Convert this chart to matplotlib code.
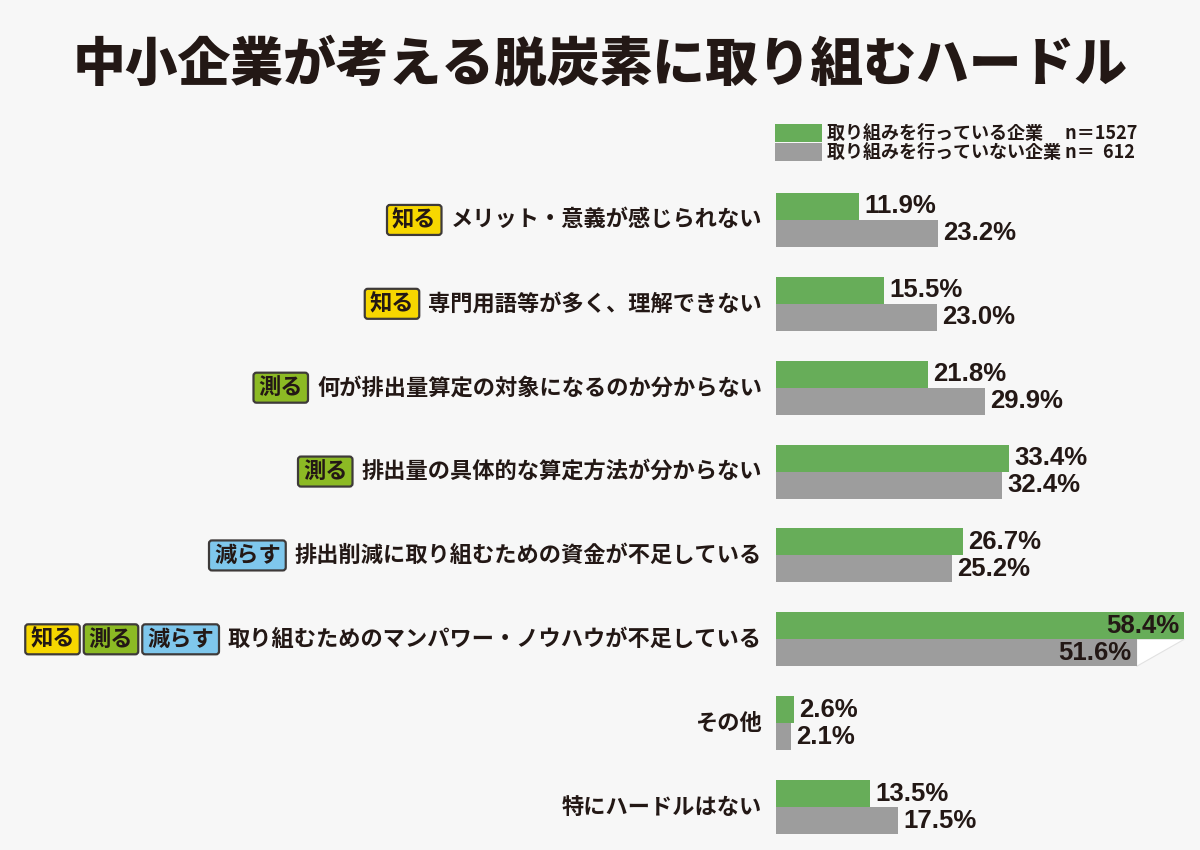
import matplotlib
matplotlib.use('Agg')
import matplotlib.pyplot as plt
from matplotlib.patches import FancyBboxPatch
from matplotlib.transforms import IdentityTransform
import numpy as np

plt.rcParams['font.family'] = ['Noto Sans CJK JP', 'DejaVu Sans']

# data
categories = ['メリット・意義が感じられない',
              '専門用語等が多く、理解できない',
              '何が排出量算定の対象になるのか分からない',
              '排出量の具体的な算定方法が分からない',
              '排出削減に取り組むための資金が不足している',
              '取り組むためのマンパワー・ノウハウが不足している',
              'その他',
              '特にハードルはない']
tags = [['知る'], ['知る'], ['測る'], ['測る'], ['減らす'],
        ['知る', '測る', '減らす'], [], []]
active = [11.9, 15.5, 21.8, 33.4, 26.7, 58.4, 2.6, 13.5]
inactive = [23.2, 23.0, 29.9, 32.4, 25.2, 51.6, 2.1, 17.5]
series_names = ['取り組みを行っている企業', '取り組みを行っていない企業']
sample_sizes = ['n＝1527', 'n＝  612']
tag_colors = {'知る': '#f7d700', '測る': '#8cba24', '減らす': '#7fc7ec'}

bg = '#f7f7f7'
ink = '#231815'
green = '#67ad59'
gray = '#9d9d9d'

fig = plt.figure(figsize=(12, 8.5), dpi=100)
fig.patch.set_facecolor(bg)

# axes: x=0 at pixel 776, 6.99 px per percent
ax = fig.add_axes([776 / 1200, 1 / 850, 424 / 1200, 671 / 850])
ax.set_facecolor('none')
ax.set_xlim(0, 424 / 6.99)
ax.set_ylim(len(categories) - 0.5, -0.5)
ax.axis('off')

y = np.arange(len(categories))
h = 0.322
b1 = ax.barh(y - h / 2, active, height=h, color=green, label=series_names[0])
b2 = ax.barh(y + h / 2, inactive, height=h, color=gray, label=series_names[1])

# little white fold under the longest bar
imax = int(np.argmax(active))
ax.fill([inactive[imax], active[imax], inactive[imax]],
        [imax, imax, imax + h], facecolor='white', edgecolor='#e2e2e2',
        lw=0.8, zorder=0)

# value labels
num_font = ['Liberation Sans', 'DejaVu Sans']
for vals, yy in ((active, y - h / 2), (inactive, y + h / 2)):
    for v, yc in zip(vals, yy):
        inside = v > 50
        ax.annotate(f'{v:.1f}%', (v, yc), xytext=(-5 if inside else 5, 0),
                    textcoords='offset pixels', ha='right' if inside else 'left',
                    va='center', fontsize=18.5, fontweight='bold',
                    family=num_font, color=ink)

# category labels with tags
renderer = fig.canvas.get_renderer()
pad_x = 5
box_h = 30
for i, (cat, tg) in enumerate(zip(categories, tags)):
    lab = ax.annotate(cat, (0, i), xytext=(-14, 0), textcoords='offset pixels',
                      ha='right', va='center', fontsize=16, fontweight='bold',
                      color=ink)
    ext = lab.get_window_extent(renderer)
    x0, yc = ax.transData.transform((0, i))
    x_right = ext.x0 - 9
    for t in reversed(tg):
        tt = ax.annotate(t, (0, i), xytext=(x_right - pad_x - x0, 0),
                         textcoords='offset pixels', ha='right', va='center',
                         fontsize=16, fontweight='bold', color=ink, zorder=5)
        te = tt.get_window_extent(renderer)
        box = FancyBboxPatch((te.x0 - pad_x, yc - box_h / 2),
                             te.width + 2 * pad_x, box_h,
                             boxstyle='round,pad=0,rounding_size=3',
                             fc=tag_colors[t], ec='#3e3a39', lw=1.6,
                             transform=IdentityTransform(), zorder=4,
                             clip_on=False)
        ax.add_artist(box)
        x_right = te.x0 - pad_x - 4

# legend
labels = [series_names[0] + '　 ' + sample_sizes[0],
          series_names[1] + ' ' + sample_sizes[1]]
fig.legend([b1, b2], labels, loc='upper left',
           bbox_to_anchor=(775 / 1200, 1 - 124 / 850), frameon=False,
           prop={'size': 13, 'weight': 'bold'}, labelcolor=ink,
           handlelength=2.6, handleheight=1.1, labelspacing=0.0,
           handletextpad=0.3, borderpad=0, borderaxespad=0)

# title
fig.text(0.5, 1 - 65 / 850, '中小企業が考える脱炭素に取り組むハードル',
         ha='center', va='center', fontsize=38, fontweight='heavy', color=ink)

fig.savefig('out.png', dpi=100, facecolor=bg)
